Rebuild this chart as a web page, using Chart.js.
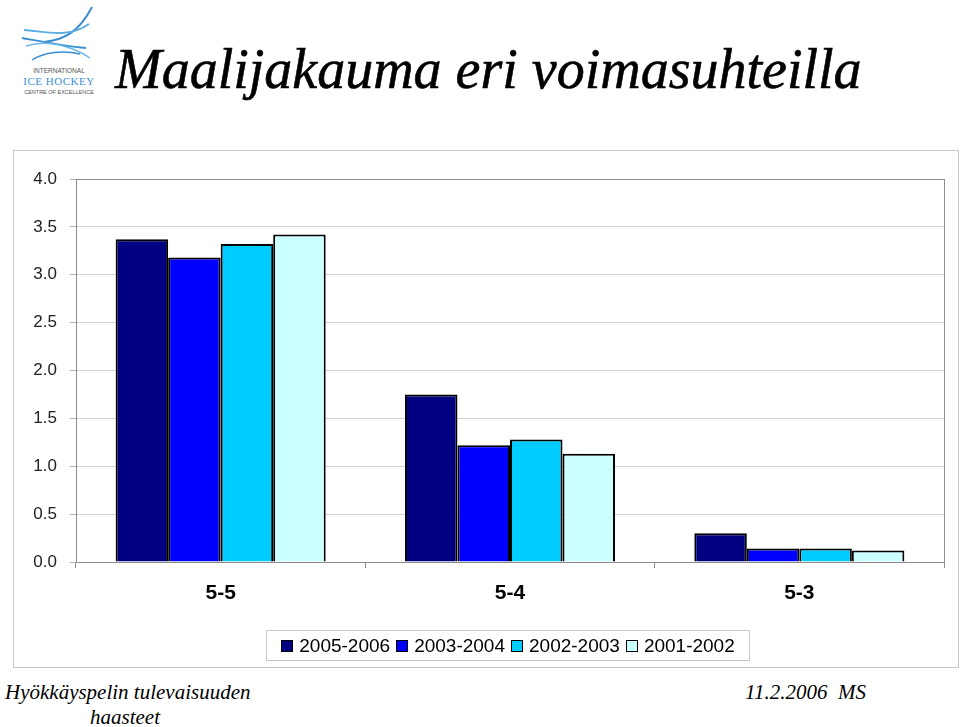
<!DOCTYPE html>
<html>
<head>
<meta charset="utf-8">
<script src="https://cdn.jsdelivr.net/npm/chart.js@4"></script>
<style>
  body { margin: 0; background: #fff; width: 960px; height: 727px; position: relative; overflow: hidden; }
  #title { position: absolute; left: 115px; top: 41px; font-family: "Liberation Serif", "Times New Roman", serif; font-style: italic; font-size: 56px; color: #000; white-space: nowrap; line-height: 1; -webkit-text-stroke: 0.6px #000; }
  #logo { position: absolute; left: 14px; top: 2px; }
  #chartBox { position: absolute; left: 13px; top: 150px; width: 944px; height: 516px; border: 1px solid #c8c8c8; }
  #legend { position: absolute; left: 266px; top: 630px; width: 482px; height: 29px; border: 1px solid #c8c8c8; display: flex; align-items: center; justify-content: center; font-family: "Liberation Sans", Arial, sans-serif; font-size: 19px; color: #000; }
  .leg-item { display: flex; align-items: center; margin: 0 3px; }
  .leg-box { width: 10px; height: 10px; border: 1px solid #000; margin-right: 6px; }
  .foot { position: absolute; font-family: "Liberation Serif", "Times New Roman", serif; font-style: italic; font-size: 21px; color: #000; white-space: nowrap; }
</style>
</head>
<body>
<svg id="logo" width="90" height="95" viewBox="0 0 90 95">
  <path d="M30 40 C 50 38, 65 30, 78 5" stroke="#3a8fd0" stroke-width="2" fill="none"/>
  <path d="M10 28 C 35 30, 55 36, 75 22" stroke="#5aaee0" stroke-width="2" fill="none"/>
  <path d="M8 36 C 30 40, 50 44, 72 46" stroke="#3a8fd0" stroke-width="2" fill="none"/>
  <path d="M12 44 C 30 38, 55 42, 76 56" stroke="#6ab8e6" stroke-width="1.5" fill="none"/>
  <path d="M18 58 C 30 50, 50 48, 66 52" stroke="#3a8fd0" stroke-width="1.5" fill="none"/>
  <text x="45" y="71" text-anchor="middle" font-family="Liberation Sans, Arial" font-size="6.5" fill="#555">INTERNATIONAL</text>
  <text x="45" y="83" text-anchor="middle" font-family="Liberation Serif, serif" font-size="11" fill="#3a8fd0" letter-spacing="0.5">ICE HOCKEY</text>
  <text x="45" y="92" text-anchor="middle" font-family="Liberation Sans, Arial" font-size="5.5" fill="#555">CENTRE OF EXCELLENCE</text>
</svg>
<div id="title">Maalijakauma eri voimasuhteilla</div>
<div id="chartBox"><canvas id="goalChart" width="944" height="516"></canvas></div>
<div id="legend"></div>
<div class="foot" style="left:5px; top:680px;">Hyökkäyspelin tulevaisuuden</div>
<div class="foot" style="left:90px; top:705px;">haasteet</div>
<div class="foot" style="left:745px; top:680px;">11.2.2006&nbsp; MS</div>

<script>
// Data
const categories = ["5-5", "5-4", "5-3"];
const seriesNames = ["2005-2006", "2003-2004", "2002-2003", "2001-2002"];
const season0506 = [3.37, 1.75, 0.30];
const season0304 = [3.18, 1.22, 0.14];
const season0203 = [3.32, 1.28, 0.14];
const season0102 = [3.42, 1.13, 0.12];
const yTicks = [0, 0.5, 1.0, 1.5, 2.0, 2.5, 3.0, 3.5, 4.0];

const colors = ["#000080", "#0000ff", "#00ccff", "#ccffff"];
const allSeries = [season0506, season0304, season0203, season0102];

// HTML legend
const legendEl = document.getElementById("legend");
legendEl.innerHTML = seriesNames.map((name, i) => `
    <div class="leg-item"><div class="leg-box" style="background:${colors[i]}"></div>${name}</div>
`).join('');

// Plot frame plugin (top + right border)
const plotFrame = {
    id: "plotFrame",
    afterDraw(chart) {
        const { ctx, chartArea } = chart;
        ctx.save();
        ctx.strokeStyle = "#8c8c8c";
        ctx.lineWidth = 1;
        ctx.strokeRect(Math.round(chartArea.left) + 0.5, Math.round(chartArea.top) + 0.5,
            Math.round(chartArea.right - chartArea.left), Math.round(chartArea.bottom - chartArea.top));
        ctx.restore();
    }
};

const ctx = document.getElementById("goalChart").getContext("2d");
new Chart(ctx, {
    type: "bar",
    data: {
        labels: categories,
        datasets: allSeries.map((vals, i) => ({
            label: seriesNames[i],
            data: vals,
            backgroundColor: colors[i],
            borderColor: "#000",
            borderWidth: 2,
            barPercentage: 1,
            categoryPercentage: 0.726
        }))
    },
    options: {
        responsive: false,
        animation: false,
        layout: { padding: { left: 0, right: 14, top: 28, bottom: 0 } },
        plugins: {
            legend: { display: false },
            tooltip: { enabled: false }
        },
        scales: {
            x: {
                grid: { display: true, drawOnChartArea: false, tickLength: 6, color: "#8c8c8c", offset: true },
                border: { color: "#8c8c8c" },
                ticks: {
                    color: "#000",
                    font: { family: "Liberation Sans, Arial, sans-serif", size: 21, weight: "bold" },
                    padding: 13
                },
                afterFit(scale) { scale.height = 105; }
            },
            y: {
                min: 0,
                max: 4,
                afterBuildTicks(scale) { scale.ticks = yTicks.map(v => ({ value: v })); },
                grid: { color: "#d0d0d0", tickLength: 6, tickColor: "#b0b0b0" },
                border: { color: "#8c8c8c" },
                ticks: {
                    color: "#222",
                    font: { family: "Liberation Sans, Arial, sans-serif", size: 17 },
                    padding: 13,
                    callback: v => Number(v).toFixed(1)
                },
                afterFit(scale) { scale.width = 62; }
            }
        }
    },
    plugins: [plotFrame]
});
</script>
</body>
</html>
